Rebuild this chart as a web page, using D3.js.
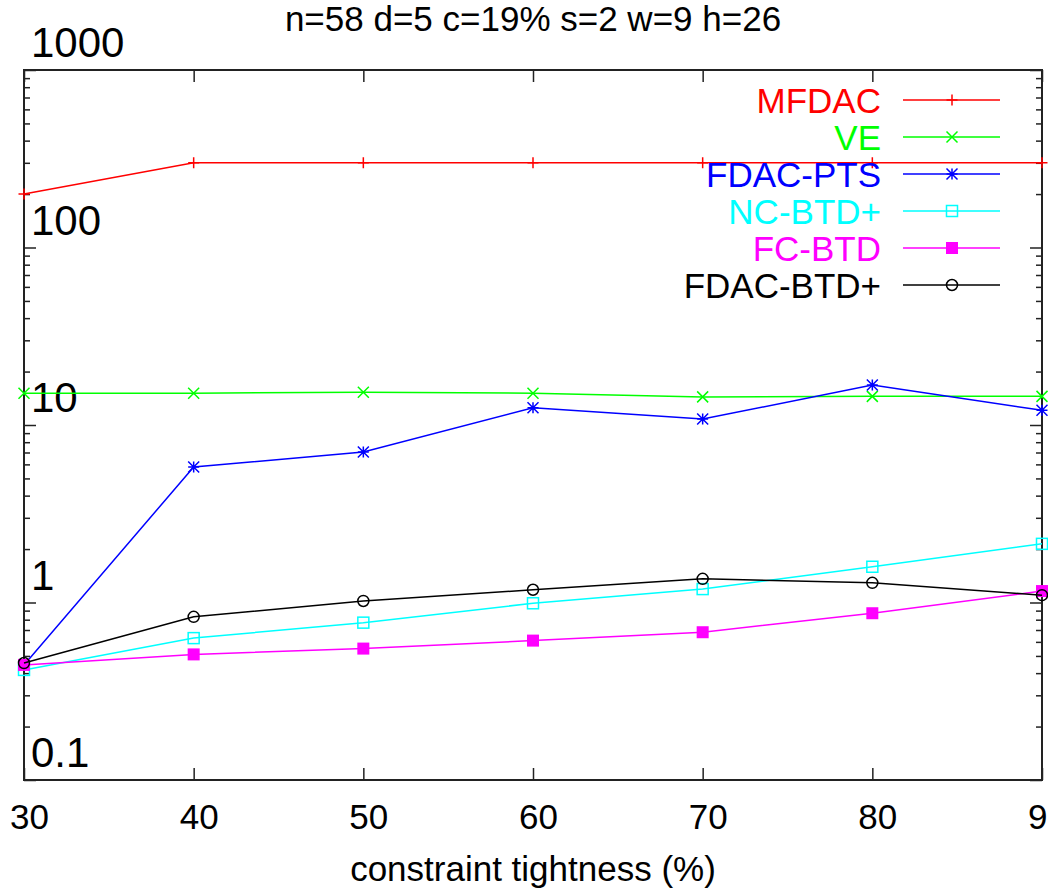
<!DOCTYPE html>
<html>
<head>
<meta charset="utf-8">
<script src="https://cdn.jsdelivr.net/npm/d3@7"></script>
<style>
  body { margin: 0; background: #fff; }
  text { font-family: "Liberation Sans", Arial, Helvetica, sans-serif; }
</style>
</head>
<body>
<div id="chart"></div>
<script>
// chart size and plot frame
const width = 1048;
const height = 890;
const margin = {left: 24, right: 6, top: 70, bottom: 110};

// data
const title = "n=58 d=5 c=19% s=2 w=9 h=26";
const xLabel = "constraint tightness (%)";
const tightness = [30, 40, 50, 60, 70, 80, 90];
const yTicks = [0.1, 1, 10, 100, 1000];
const seriesNames = ["MFDAC", "VE", "FDAC-PTS", "NC-BTD+", "FC-BTD", "FDAC-BTD+"];
const mfdac   = [200, 300, 300, 300, 300, 300, 300];
const ve      = [15.1, 15.1, 15.3, 15.1, 14.4, 14.5, 14.5];
const fdacPts = [0.445, 5.8, 7.05, 12.5, 10.8, 16.8, 12.1];
const ncBtd   = [0.417, 0.63, 0.77, 0.99, 1.19, 1.59, 2.14];
const fcBtd   = [0.445, 0.51, 0.55, 0.61, 0.68, 0.87, 1.16];
const fdacBtd = [0.456, 0.83, 1.02, 1.18, 1.36, 1.29, 1.1];
const seriesValues = [mfdac, ve, fdacPts, ncBtd, fcBtd, fdacBtd];

// styles (gnuplot default point types)
const colors = ["#ff0000", "#00ff00", "#0000ff", "#00ffff", "#ff00ff", "#000000"];
const symbols = ["plus", "cross", "star", "openSquare", "filledSquare", "openCircle"];

const svg = d3.select("#chart")
  .append("svg")
  .attr("width", width)
  .attr("height", height)
  .attr("viewBox", [0, 0, width, height]);

const xScale = d3.scaleLinear()
  .domain([30, 90])
  .range([margin.left, width - margin.right]);

const yScale = d3.scaleLog()
  .domain([0.1, 1000])
  .range([height - margin.bottom, margin.top]);

const x0 = xScale.range()[0], x1 = xScale.range()[1];
const y0 = yScale.range()[0], y1 = yScale.range()[1];

// title
svg.append("text")
  .attr("x", (x0 + x1) / 2)
  .attr("y", 31)
  .attr("text-anchor", "middle")
  .attr("font-size", 35)
  .text(title);

/*
  Axes: ticks point inward on all four sides
*/
const minorTicks = yScale.ticks().filter(v => !yTicks.includes(v));

function noLabels(axis) {
  return axis.tickFormat("").tickSizeOuter(0);
}

// bottom axis with labels
const xAxis = svg.append("g")
  .attr("transform", `translate(0,${y0})`)
  .call(d3.axisBottom(xScale)
    .tickValues(tightness)
    .tickSizeInner(-12)
    .tickSizeOuter(0)
    .tickPadding(24));
xAxis.selectAll("text")
  .attr("font-size", 35)
  .attr("font-family", "Liberation Sans, Arial, sans-serif")
  .attr("dx", 5)
  .attr("fill", "#000");

// top axis (mirror)
svg.append("g")
  .attr("transform", `translate(0,${y1})`)
  .call(noLabels(d3.axisTop(xScale).tickValues(tightness).tickSizeInner(-12)));

// left / right major and minor ticks
svg.append("g")
  .attr("transform", `translate(${x0},0)`)
  .call(noLabels(d3.axisLeft(yScale).tickValues(yTicks).tickSizeInner(-12)));
svg.append("g")
  .attr("transform", `translate(${x0},0)`)
  .call(noLabels(d3.axisLeft(yScale).tickValues(minorTicks).tickSizeInner(-6)));
svg.append("g")
  .attr("transform", `translate(${x1},0)`)
  .call(noLabels(d3.axisRight(yScale).tickValues(yTicks).tickSizeInner(-12)));
svg.append("g")
  .attr("transform", `translate(${x1},0)`)
  .call(noLabels(d3.axisRight(yScale).tickValues(minorTicks).tickSizeInner(-6)));

svg.selectAll(".domain").remove();
svg.selectAll(".tick line").attr("stroke", "#222").attr("stroke-width", 1.5);

// y labels sit inside the frame, just above each decade tick
svg.selectAll(".ylabel")
  .data(yTicks)
  .enter()
  .append("text")
  .attr("class", "ylabel")
  .attr("x", x0 + 7)
  .attr("y", d => yScale(d) - 13)
  .attr("font-size", 42)
  .text(d => d3.format("~g")(d));

// frame
svg.append("rect")
  .attr("x", x0)
  .attr("y", y1)
  .attr("width", x1 - x0)
  .attr("height", y0 - y1)
  .attr("fill", "none")
  .attr("stroke", "#222")
  .attr("stroke-width", 2);

// x axis title
svg.append("text")
  .attr("x", (x0 + x1) / 2)
  .attr("y", 881)
  .attr("text-anchor", "middle")
  .attr("font-size", 35)
  .text(xLabel);

/*
  Markers
*/
function drawMarker(g, type, color) {
  const s = 5.5;
  if (type === "plus") {
    g.append("path").attr("d", `M${-s},0H${s}M0,${-s}V${s}`)
      .attr("stroke", color).attr("stroke-width", 1.5);
  } else if (type === "cross") {
    g.append("path").attr("d", `M${-s},${-s}L${s},${s}M${-s},${s}L${s},${-s}`)
      .attr("stroke", color).attr("stroke-width", 1.5);
  } else if (type === "star") {
    g.append("path").attr("d", `M${-s},0H${s}M0,${-s}V${s}M${-s},${-s}L${s},${s}M${-s},${s}L${s},${-s}`)
      .attr("stroke", color).attr("stroke-width", 1.5);
  } else if (type === "openSquare") {
    g.append("rect").attr("x", -s).attr("y", -s).attr("width", 2 * s).attr("height", 2 * s)
      .attr("fill", "none").attr("stroke", color).attr("stroke-width", 1.5);
  } else if (type === "filledSquare") {
    g.append("rect").attr("x", -6).attr("y", -6).attr("width", 12).attr("height", 12)
      .attr("fill", color);
  } else if (type === "openCircle") {
    g.append("circle").attr("r", s)
      .attr("fill", "none").attr("stroke", color).attr("stroke-width", 1.5);
  }
}

/*
  Series lines and points
*/
const line = d3.line()
  .x((d, i) => xScale(tightness[i]))
  .y(d => yScale(d));

seriesValues.forEach((vals, k) => {
  svg.append("path")
    .datum(vals)
    .attr("fill", "none")
    .attr("stroke", colors[k])
    .attr("stroke-width", 1.5)
    .attr("d", line);

  svg.selectAll(".pt" + k)
    .data(vals)
    .enter()
    .append("g")
    .attr("class", "pt" + k)
    .attr("transform", (d, i) => `translate(${xScale(tightness[i])},${yScale(d)})`)
    .each(function() { drawMarker(d3.select(this), symbols[k], colors[k]); });
});

/*
  Legend (top right, inside frame)
*/
const legend = svg.append("g");
seriesNames.forEach((name, k) => {
  const ly = 100 + 37 * k;
  legend.append("text")
    .attr("x", 881)
    .attr("y", ly + 13)
    .attr("text-anchor", "end")
    .attr("font-size", 35)
    .attr("fill", colors[k])
    .text(name);
  legend.append("line")
    .attr("x1", 903).attr("x2", 1000)
    .attr("y1", ly).attr("y2", ly)
    .attr("stroke", colors[k])
    .attr("stroke-width", 1.5);
  drawMarker(legend.append("g").attr("transform", `translate(952,${ly})`), symbols[k], colors[k]);
});
</script>
</body>
</html>
